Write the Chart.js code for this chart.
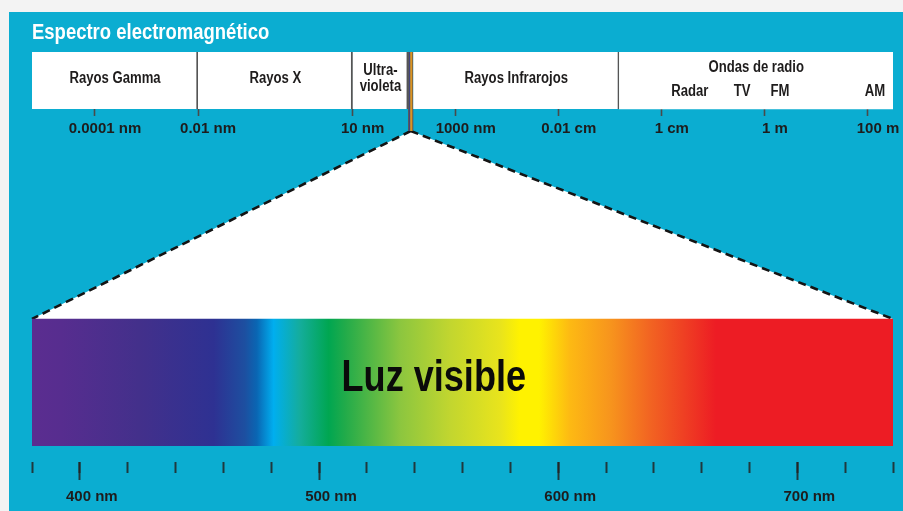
<!DOCTYPE html>
<html>
<head>
<meta charset="utf-8">
<script src="https://cdn.jsdelivr.net/npm/chart.js@4.4.0/dist/chart.umd.min.js"></script>
<style>
html,body{margin:0;padding:0;background:#f3f3f3;overflow:hidden}
canvas{display:block}
</style>
</head>
<body>
<canvas id="c" width="903" height="511"></canvas>
<script>
// ---------- data ----------
const chartTitle = 'Espectro electromagnético';

// electromagnetic bands, wavelength in metres (as placed on the drawing's log scale)
const bandNames  = ['Rayos Gamma', 'Rayos X', ['Ultra-', 'violeta'], '', 'Rayos Infrarojos', 'Ondas de radio'];
const bandStart  = [6e-15, 1e-11, 1e-8, 1.2e-7, 1.5e-7, 1.5e-3];
const bandEnd    = [1e-11, 1e-8, 1.2e-7, 1.5e-7, 1.5e-3, 306];
const visibleBandIndex = 3;

const emTickValues = [1e-13, 1e-11, 1e-8, 1e-6, 1e-4, 1e-2, 1, 100];
const emTickLabels = ['0.0001 nm', '0.01 nm', '10 nm', '1000 nm', '0.01 cm', '1 cm', '1 m', '100 m'];

const radioNames      = ['Radar', 'TV', 'FM', 'AM'];
const radioWavelength = [0.035, 0.36, 1.95, 137];

// visible light, nm
const visRange        = [380, 740];
const visTitle        = 'Luz visible';
const visTitleAt      = 548;
const visMinorTicks   = [380, 400, 420, 440, 460, 480, 500, 520, 540, 560, 580, 600, 620, 640, 660, 680, 700, 720, 740];
const visMajorTicks   = [400, 500, 600, 700];
const visMajorLabels  = ['400 nm', '500 nm', '600 nm', '700 nm'];
const visStopNm    = [380, 392, 425, 456, 469, 474, 481, 492, 504, 511, 534, 555, 576, 584, 592, 605, 622, 638, 652, 666, 740];
const visStopColor = ['#5b2d90', '#572d8f', '#43308b', '#2e3192', '#1d4fa0', '#0a66b3', '#00aeef', '#14ad9c', '#00a651', '#22ab4a',
                      '#8cc63f', '#c2d62f', '#e9e41c', '#fff200', '#fff200', '#fdb913', '#f7941d', '#f26522', '#ef4123', '#ed1c24', '#ed1c24'];

// ---------- layout constants (pixels / row positions) ----------
const FONT = '"Liberation Sans", Arial, sans-serif';
const SQUEEZE = 0.82;           // condensed look for drawn captions
const EM_ROW = 28.5, EM_H = 57;
const STRIPE_ROW = 39.5, STRIPE_H = 79;
const VIS_ROW = 330.5, VIS_H = 127;
const EM_AXIS_AT = 57, VIS_AXIS_AT = 410;
const EM_MIN = 6e-15, EM_MAX = 306;

const emIdx = bandNames.map((_, i) => i).filter(i => i !== visibleBandIndex);

function squeezedText(c, text, x, y, k) {
  c.save();
  c.translate(x, y);
  c.scale(k || SQUEEZE, 1);
  c.fillText(text, 0, 0);
  c.restore();
}

const bgPlugin = {
  id: 'bg',
  beforeDraw(chart) {
    const c = chart.ctx;
    c.save();
    c.fillStyle = '#f3f3f3';
    c.fillRect(0, 0, chart.width, chart.height);
    c.fillStyle = '#0badd1';
    c.fillRect(9, 12, chart.width - 9, chart.height - 12);
    c.fillStyle = '#ffffff';
    c.font = 'bold 22px ' + FONT;
    c.textAlign = 'left';
    c.textBaseline = 'alphabetic';
    squeezedText(c, chartTitle, chart.chartArea.left, 39, 0.84);
    c.restore();
  }
};

const trianglePlugin = {
  id: 'triangle',
  beforeDatasetsDraw(chart) {
    const {xEM, xVis, y} = chart.scales;
    const c = chart.ctx;
    const ax = xEM.getPixelForValue(Math.sqrt(bandStart[visibleBandIndex] * bandEnd[visibleBandIndex]));
    const ay = y.getPixelForValue(STRIPE_ROW) + STRIPE_H / 2;
    const by = y.getPixelForValue(VIS_ROW) - VIS_H / 2;
    const lx = xVis.getPixelForValue(visRange[0]);
    const rx = xVis.getPixelForValue(visRange[1]);
    c.save();
    c.beginPath();
    c.moveTo(ax, ay); c.lineTo(lx, by); c.lineTo(rx, by); c.closePath();
    c.fillStyle = '#ffffff';
    c.fill();
    c.setLineDash([8, 5]);
    c.lineWidth = 2.6;
    c.strokeStyle = '#141414';
    c.beginPath();
    c.moveTo(ax, ay); c.lineTo(lx, by);
    c.moveTo(ax, ay); c.lineTo(rx, by);
    c.stroke();
    c.restore();
  }
};

const labelPlugin = {
  id: 'labels',
  afterDatasetsDraw(chart) {
    const c = chart.ctx;
    const {xEM, xVis, y} = chart.scales;
    c.save();
    c.fillStyle = '#1e1c1c';
    c.textAlign = 'center';
    c.textBaseline = 'middle';
    c.font = 'bold 16px ' + FONT;
    const meta = chart.getDatasetMeta(0);
    meta.data.forEach((el, k) => {
      const i = emIdx[k];
      const name = bandNames[i];
      const cx = (el.x + el.base) / 2;
      if (Array.isArray(name)) {
        squeezedText(c, name[0], cx, el.y - 10);
        squeezedText(c, name[1], cx, el.y + 6);
      } else if (i === bandNames.length - 1) {
        squeezedText(c, name, cx, el.y - 12.5);
        radioNames.forEach((r, j) => {
          squeezedText(c, r, xEM.getPixelForValue(radioWavelength[j]), el.y + 11.5);
        });
      } else {
        squeezedText(c, name, cx, el.y - 1.5);
      }
    });
    c.font = 'bold 44px ' + FONT;
    c.fillStyle = '#0a0a0a';
    squeezedText(c, visTitle, xVis.getPixelForValue(visTitleAt), y.getPixelForValue(VIS_ROW) - 4);
    c.restore();
  }
};

function spectrumGradient(ctx) {
  const chart = ctx.chart;
  if (!chart.chartArea) return '#888';
  const s = chart.scales.xVis;
  const x0 = s.getPixelForValue(visRange[0]), x1 = s.getPixelForValue(visRange[1]);
  const g = chart.ctx.createLinearGradient(x0, 0, x1, 0);
  visStopNm.forEach((nm, i) => g.addColorStop((nm - visRange[0]) / (visRange[1] - visRange[0]), visStopColor[i]));
  return g;
}

function stripeGradient(ctx) {
  const chart = ctx.chart;
  if (!chart.chartArea) return '#888';
  const s = chart.scales.xEM;
  const x0 = s.getPixelForValue(bandStart[visibleBandIndex]);
  const x1 = s.getPixelForValue(bandEnd[visibleBandIndex]);
  const g = chart.ctx.createLinearGradient(x0, 0, x1, 0);
  g.addColorStop(0, '#3a3f86');
  g.addColorStop(0.35, '#45477c');
  g.addColorStop(0.5, '#f0a81c');
  g.addColorStop(0.72, '#d38c22');
  g.addColorStop(1, '#6f5a3c');
  return g;
}

const tickFont = {family: FONT, size: 15, weight: 'bold', lineHeight: 1.2};
const noSpace = (s) => { s.height = 0; s.paddingLeft = 0; s.paddingRight = 0; s.paddingTop = 0; s.paddingBottom = 0; };

new Chart(document.getElementById('c'), {
  type: 'bar',
  data: {
    datasets: [
      {
        label: 'Espectro',
        xAxisID: 'xEM', yAxisID: 'y',
        data: emIdx.map(i => ({x: [bandStart[i], bandEnd[i]], y: EM_ROW})),
        backgroundColor: '#ffffff',
        borderColor: '#555555',
        borderSkipped: false,
        borderWidth: (ctx) => ({left: 0, top: 0, bottom: 0, right: ctx.dataIndex === emIdx.length - 1 ? 0 : 2}),
        barThickness: EM_H,
        grouped: false
      },
      {
        label: 'Visible (franja)',
        xAxisID: 'xEM', yAxisID: 'y',
        data: [{x: [bandStart[visibleBandIndex], bandEnd[visibleBandIndex]], y: STRIPE_ROW}],
        backgroundColor: stripeGradient,
        borderColor: '#5a5a5a',
        borderSkipped: false,
        borderWidth: {left: 1, right: 1, top: 0, bottom: 0},
        barThickness: STRIPE_H,
        grouped: false
      },
      {
        label: 'Luz visible',
        xAxisID: 'xVis', yAxisID: 'y',
        data: [{x: visRange, y: VIS_ROW}],
        backgroundColor: spectrumGradient,
        borderWidth: 0,
        barThickness: VIS_H,
        grouped: false
      }
    ]
  },
  options: {
    indexAxis: 'y',
    responsive: false,
    animation: false,
    devicePixelRatio: 1,
    layout: {padding: {top: 52, left: 32, right: 10, bottom: 65}},
    plugins: {
      legend: {display: false},
      tooltip: {enabled: false},
      title: {display: false}
    },
    scales: {
      y: {type: 'linear', min: 0, max: 394, reverse: true, display: false, offset: false,
          grid: {offset: false}, afterFit: (s) => { s.width = 0; }},
      xEM: {
        type: 'logarithmic', min: EM_MIN, max: EM_MAX, offset: false,
        position: {y: EM_AXIS_AT},
        afterBuildTicks: (s) => { s.ticks = emTickValues.map(v => ({value: v})); },
        afterFit: noSpace,
        ticks: {
          autoSkip: false, maxRotation: 0, padding: 4, labelOffset: 10,
          color: '#1e1c1c', font: tickFont,
          callback: (v, i) => emTickLabels[i]
        },
        grid: {drawOnChartArea: false, drawTicks: true, tickLength: 7, tickColor: '#4a4a4a', tickWidth: 1.6},
        border: {display: false}
      },
      xVisMinor: {
        type: 'linear', min: visRange[0], max: visRange[1], offset: false,
        position: {y: VIS_AXIS_AT},
        afterBuildTicks: (s) => { s.ticks = visMinorTicks.map(v => ({value: v})); },
        afterFit: noSpace,
        ticks: {autoSkip: false, maxRotation: 0, callback: () => ''},
        grid: {drawOnChartArea: false, drawTicks: true, tickLength: 11, tickColor: 'rgba(35,35,35,0.85)', tickWidth: 2},
        border: {display: false}
      },
      xVis: {
        type: 'linear', min: visRange[0], max: visRange[1], offset: false,
        position: {y: VIS_AXIS_AT},
        afterBuildTicks: (s) => { s.ticks = visMajorTicks.map(v => ({value: v})); },
        afterFit: noSpace,
        ticks: {
          autoSkip: false, maxRotation: 0, padding: 8, labelOffset: 12,
          color: '#1e1c1c', font: tickFont,
          callback: (v, i) => visMajorLabels[i]
        },
        grid: {drawOnChartArea: false, drawTicks: true, tickLength: 18, tickColor: 'rgba(35,35,35,0.85)', tickWidth: 2},
        border: {display: false}
      }
    }
  },
  plugins: [bgPlugin, trianglePlugin, labelPlugin]
});
</script>
</body>
</html>
